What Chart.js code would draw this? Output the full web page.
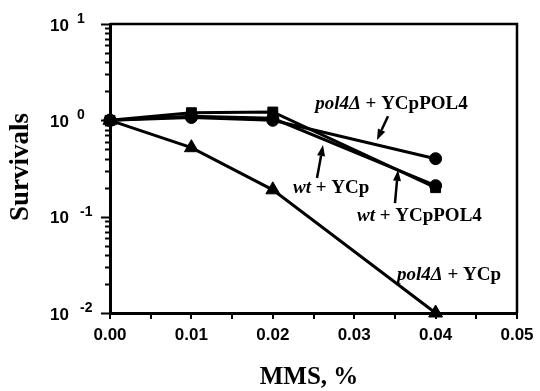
<!DOCTYPE html>
<html>
<head>
<meta charset="utf-8">
<script src="https://cdn.jsdelivr.net/npm/chart.js@4"></script>
<style>
html,body{margin:0;padding:0;background:#fff;}
#wrap{width:540px;height:391px;position:relative;}
</style>
</head>
<body>
<div id="wrap"><canvas id="c" width="540" height="391"></canvas></div>
<script>
// ---- data ----
const mmsDoses = [0.00, 0.01, 0.02, 0.04];
const pol4YCpPOL4 = [1.0, 1.07, 1.0, 0.40];
const wtYCp = [1.0, 1.2, 1.22, 0.20];
const wtYCpPOL4 = [1.0, 1.1, 1.05, 0.21];
const pol4YCp = [1.0, 0.52, 0.19, 0.01];
const xTickLabels = ['0.00', '0.01', '0.02', '0.03', '0.04', '0.05'];
const yDecades = [-2, -1, 0, 1];

const pts = arr => mmsDoses.map((x, i) => ({x: x, y: arr[i]}));

const SERIF = '"Liberation Serif", "Times New Roman", serif';
const SANS = '"Liberation Sans", Arial, sans-serif';

// annotations (data coordinates)
const notes = [
  {it: 'pol4\u0394', rest: ' + YCpPOL4', x: 0.0252, y: 1.476},
  {it: 'wt', rest: ' + YCp', x: 0.02248, y: 0.198},
  {it: 'wt', rest: ' + YCpPOL4', x: 0.03034, y: 0.1016},
  {it: 'pol4\u0394', rest: ' + YCp', x: 0.03526, y: 0.0248}
];
const arrows = [
  {x1: 0.03415, y1: 1.105, x2: 0.0328, y2: 0.624},
  {x1: 0.02543, y1: 0.252, x2: 0.02617, y2: 0.554},
  {x1: 0.03501, y1: 0.1385, x2: 0.03538, y2: 0.305}
];

const deco = {
  id: 'deco',
  afterDraw(chart) {
    const ctx = chart.ctx, a = chart.chartArea;
    const xs = chart.scales.x, ys = chart.scales.y;
    ctx.save();
    // frame top/right
    ctx.strokeStyle = '#000';
    ctx.lineWidth = 2.5;
    ctx.beginPath();
    ctx.moveTo(a.left, a.top);
    ctx.lineTo(a.right, a.top);
    ctx.lineTo(a.right, a.bottom);
    ctx.stroke();
    // y ticks (major + minor)
    ctx.lineWidth = 2;
    yDecades.forEach(d => {
      const base = Math.pow(10, d);
      const mults = d === 1 ? [1] : [1,2,3,4,5,6,7,8,9];
      mults.forEach(m => {
        const py = Math.round(ys.getPixelForValue(m * base)) + 0.5;
        const len = m === 1 ? 9 : 5;
        ctx.beginPath();
        ctx.moveTo(a.left - len, py);
        ctx.lineTo(a.left, py);
        ctx.stroke();
      });
      // labels
      const py = ys.getPixelForValue(base);
      ctx.fillStyle = '#000';
      ctx.textBaseline = 'middle';
      ctx.textAlign = 'left';
      ctx.font = 'bold 17px ' + SANS;
      ctx.fillText('10', 50, py + 2);
      ctx.font = 'bold 14px ' + SANS;
      ctx.fillText(d < 0 ? '-' + Math.abs(d) : String(d), d < 0 ? 80 : 77, py - 5);
    });
    // axis titles
    ctx.fillStyle = '#000';
    ctx.font = 'bold 25px ' + SERIF;
    ctx.textAlign = 'center';
    ctx.textBaseline = 'middle';
    ctx.fillText('MMS, %', 309, 378);
    ctx.save();
    ctx.translate(21, 167);
    ctx.rotate(-Math.PI / 2);
    ctx.font = 'bold 27px ' + SERIF;
    ctx.fillText('Survivals', 0, 0);
    ctx.restore();
    // annotation texts
    ctx.textAlign = 'left';
    ctx.textBaseline = 'middle';
    notes.forEach(n => {
      let px = xs.getPixelForValue(n.x), py = ys.getPixelForValue(n.y);
      ctx.font = 'italic bold 19px ' + SERIF;
      ctx.fillText(n.it, px, py);
      px += ctx.measureText(n.it).width;
      ctx.font = 'bold 19px ' + SERIF;
      ctx.fillText(n.rest, px, py);
    });
    // arrows
    ctx.lineWidth = 2.5;
    arrows.forEach(r => {
      const x1 = xs.getPixelForValue(r.x1), y1 = ys.getPixelForValue(r.y1);
      const x2 = xs.getPixelForValue(r.x2), y2 = ys.getPixelForValue(r.y2);
      const ang = Math.atan2(y2 - y1, x2 - x1);
      const hl = 11, hw = 4;
      const bx = x2 - hl * Math.cos(ang), by = y2 - hl * Math.sin(ang);
      ctx.beginPath();
      ctx.moveTo(x1, y1);
      ctx.lineTo(bx, by);
      ctx.stroke();
      ctx.beginPath();
      ctx.moveTo(x2, y2);
      ctx.lineTo(bx + hw * Math.sin(ang), by - hw * Math.cos(ang));
      ctx.lineTo(bx - hw * Math.sin(ang), by + hw * Math.cos(ang));
      ctx.closePath();
      ctx.fill();
    });
    ctx.restore();
  }
};

const common = {
  borderColor: '#000', backgroundColor: '#000', borderWidth: 3,
  pointBorderColor: '#000', pointBackgroundColor: '#000',
  pointBorderWidth: 1, tension: 0, clip: false
};

new Chart(document.getElementById('c'), {
  type: 'line',
  data: {
    datasets: [
      Object.assign({label: 'pol4\u0394 + YCpPOL4', data: pts(pol4YCpPOL4), pointStyle: 'circle', pointRadius: 6, order: 3}, common),
      Object.assign({label: 'wt + YCpPOL4', data: pts(wtYCpPOL4), pointStyle: 'circle', pointRadius: 6, order: 2}, common),
      Object.assign({label: 'wt + YCp', data: pts(wtYCp), pointStyle: 'rect', pointRadius: 7, order: 1}, common),
      Object.assign({label: 'pol4\u0394 + YCp', data: pts(pol4YCp), pointStyle: 'triangle', pointRadius: 8, order: 0}, common)
    ]
  },
  options: {
    responsive: false,
    animation: false,
    layout: {padding: {left: 0, right: 23, top: 24, bottom: 0}},
    plugins: {legend: {display: false}, tooltip: {enabled: false}},
    scales: {
      x: {
        type: 'linear', min: 0, max: 0.05,
        afterFit: s => { s.height = 78; },
        border: {display: true, color: '#000', width: 3},
        grid: {drawOnChartArea: false, drawTicks: true, tickLength: 6, color: '#000', lineWidth: 2},
        ticks: {
          stepSize: 0.005, autoSkip: false, maxRotation: 0, padding: 6,
          color: '#000', font: {family: SANS, size: 17, weight: 'bold'},
          callback: v => {
            const k = Math.round(v * 1000);
            return k % 10 === 0 ? xTickLabels[k / 10] : '';
          }
        }
      },
      y: {
        type: 'logarithmic', min: 0.01, max: 10,
        afterFit: s => { s.width = 110; },
        border: {display: true, color: '#000', width: 3},
        grid: {drawOnChartArea: false, drawTicks: false},
        ticks: {display: false}
      }
    }
  },
  plugins: [deco]
});
</script>
</body>
</html>
